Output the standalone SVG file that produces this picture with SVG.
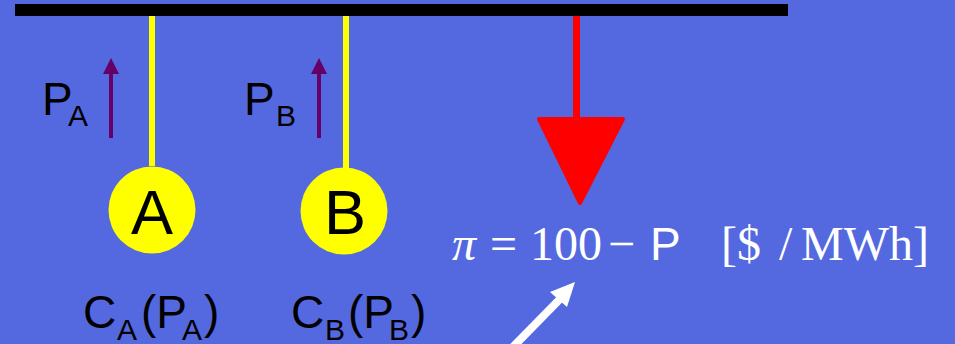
<svg xmlns="http://www.w3.org/2000/svg" width="955" height="344" viewBox="0 0 955 344">
<style>
.sans{font-family:"Liberation Sans",Arial,sans-serif;fill:#000}
.serif{font-family:"Liberation Serif","Times New Roman",serif;fill:#fff}
.feed{stroke:#FFFF00;stroke-width:6}
.gen{fill:#FFFF00}
.pflow{stroke:#660066;stroke-width:4}
.phead{fill:#660066}
</style>
<rect x="0" y="0" width="955" height="344" fill="#5469E0"/>
<rect id="bus" x="15" y="4" width="773" height="12" fill="#000"/>
<g id="connectors">
<line class="feed" x1="152" y1="16" x2="152" y2="166"/>
<line class="feed" x1="346" y1="16" x2="346" y2="168"/>
<line class="pflow" x1="111" y1="138" x2="111" y2="72"/>
<polygon class="phead" points="103,74 119,74 111,58"/>
<line class="pflow" x1="319" y1="138" x2="319" y2="72"/>
<polygon class="phead" points="311,74 327,74 319,58"/>
<line x1="576.5" y1="16" x2="576.5" y2="118" stroke="#FF0000" stroke-width="7"/>
<polygon points="539,119 623,119 580,203" fill="#FF0000" stroke="#FF0000" stroke-width="4" stroke-linejoin="round"/>
<line x1="508" y1="352" x2="560" y2="299" stroke="#fff" stroke-width="8"/>
<polygon points="575,282 550,292 567,307" fill="#fff"/>
</g>
<g id="node-A">
<circle cx="152" cy="210" r="43.5" class="gen"/>
<text class="sans" x="152" y="234" font-size="63" text-anchor="middle">A</text>
</g>
<g id="node-B">
<circle cx="344" cy="211" r="43.5" class="gen"/>
<text class="sans" x="345" y="234" font-size="63" text-anchor="middle">B</text>
</g>
<g id="label-PA">
<text class="sans" x="42" y="115" font-size="46">P<tspan font-size="30" x="68" y="126">A</tspan></text>
</g>
<g id="label-PB">
<text class="sans" x="244" y="115" font-size="46">P<tspan font-size="30" x="276" y="126">B</tspan></text>
</g>
<g id="label-CA">
<text class="sans" x="83" y="328" font-size="46">C<tspan font-size="30" x="117" y="340">A</tspan><tspan x="141" y="328">(P</tspan><tspan font-size="30" x="182" y="340">A</tspan><tspan x="204" y="328">)</tspan></text>
</g>
<g id="label-CB">
<text class="sans" x="291" y="328" font-size="46">C<tspan font-size="30" x="325" y="340">B</tspan><tspan x="348" y="328">(P</tspan><tspan font-size="30" x="389" y="340">B</tspan><tspan x="411" y="328">)</tspan></text>
</g>
<g id="price-formula">
<text class="serif" y="260" font-size="48"><tspan x="452" font-style="italic">π</tspan><tspan x="490">=</tspan><tspan x="530">100</tspan><tspan x="608">−</tspan><tspan x="650" font-family="Liberation Sans, Arial, sans-serif" font-size="46">P</tspan><tspan x="721">[$</tspan><tspan x="779">/</tspan><tspan x="801">MWh]</tspan></text>
</g>
</svg>
